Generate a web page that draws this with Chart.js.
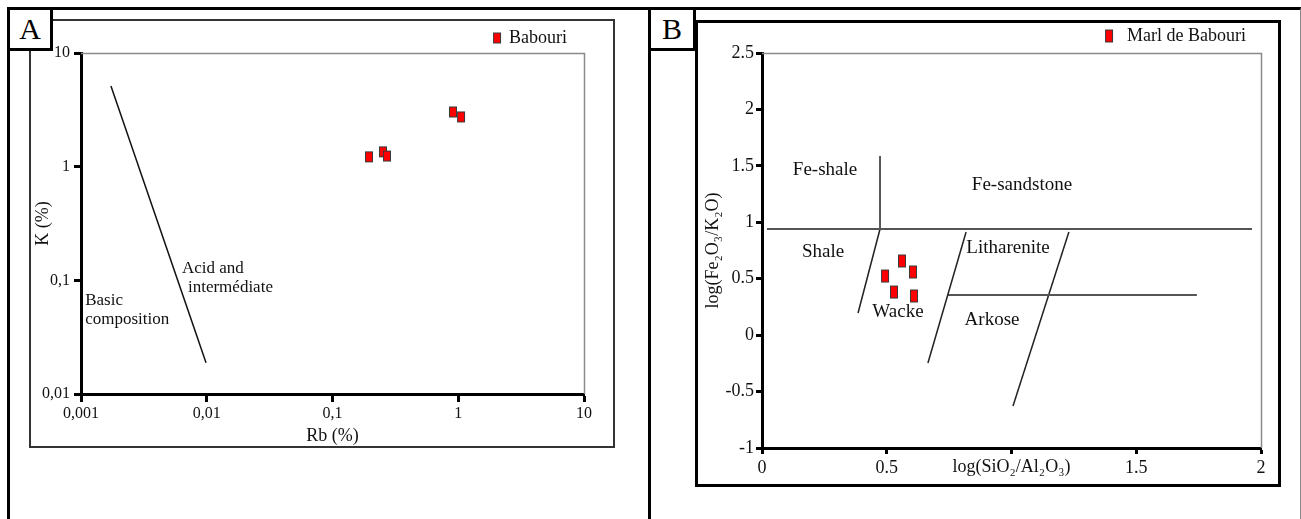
<!DOCTYPE html>
<html>
<head>
<meta charset="utf-8">
<title>Babouri - K/Rb and Herron diagrams</title>
<script src="https://cdn.jsdelivr.net/npm/chart.js@4.4.1/dist/chart.umd.min.js"></script>
<style>
  html, body { margin: 0; padding: 0; background: #fff; }
  body { width: 1301px; height: 519px; position: relative; overflow: hidden; font-family: "Liberation Serif", "Times New Roman", serif; }
  .frame { position: absolute; box-sizing: border-box; }
  #outerA { left: 7px; top: 7px; width: 644px; height: 540px; border: 3px solid #000; }
  #outerB { left: 651px; top: 7px; width: 650px; height: 540px; border-top: 3px solid #000; border-right: 1px solid #888; }
  #innerA { left: 29px; top: 19px; width: 586px; height: 429px; border: 2px solid #333; }
  #innerB { left: 695px; top: 20px; width: 586px; height: 467px; border: 3px solid #000; }
  .tag { position: absolute; box-sizing: border-box; background: #fff; border: 3px solid #000; font-size: 30px; line-height: 38px; text-align: center; color: #000; }
  #tagA { left: 7px; top: 7px; width: 46px; height: 44px; }
  #tagB { left: 648px; top: 7px; width: 48px; height: 44px; }
  canvas { position: absolute; }
  #chartA { left: 30px; top: 12px; }
  #chartB { left: 699px; top: 12px; }
</style>
</head>
<body>
<div class="frame" id="outerA"></div>
<div class="frame" id="outerB"></div>
<div class="frame" id="innerA"></div>
<div class="frame" id="innerB"></div>
<canvas id="chartA" width="582" height="435"></canvas>
<canvas id="chartB" width="579" height="472"></canvas>
<div class="tag" id="tagA">A</div>
<div class="tag" id="tagB">B</div>
<script>
// ---- Panel A : K vs Rb (log-log)
const rbTicks = [0.001, 0.01, 0.1, 1, 10];
const rbTickLabels = ['0,001', '0,01', '0,1', '1', '10'];
const kTicks = [0.01, 0.1, 1, 10];
const kTickLabels = ['0,01', '0,1', '1', '10'];
const babouriRb = [0.195, 0.252, 0.271, 0.908, 1.052];
const babouriK = [1.22, 1.35, 1.24, 3.03, 2.74];
const acidLineRb = [0.00173, 0.00987];
const acidLineK = [5.13, 0.0188];
const fieldTextA = [
    { text: 'Acid and', x: 0.00635, y: 0.126 },
    { text: 'intermédiate', x: 0.00709, y: 0.0857 },
    { text: 'Basic', x: 0.00108, y: 0.0658 },
    { text: 'composition', x: 0.00108, y: 0.0448 }
];

// ---- Panel B : Herron (1988) classification
const siAlTicks = [0, 0.5, 1, 1.5, 2];
const siAlTickLabels = ['0', '0.5', '', '1.5', '2'];   // "1" sits under the axis title in the original
const feKTicks = [-1, -0.5, 0, 0.5, 1, 1.5, 2, 2.5];
const feKTickLabels = ['-1', '-0.5', '0', '0.5', '1', '1.5', '2', '2.5'];
const marlSiAl = [0.561, 0.493, 0.605, 0.529, 0.609];
const marlFeK = [0.657, 0.524, 0.560, 0.382, 0.347];
const ironLineSiAl = [0.02, 1.964];
const ironLineFeK = [0.94, 0.94];
const shaleLineSiAl = [0.473, 0.473, 0.385];
const shaleLineFeK = [1.587, 0.94, 0.196];
const wackeLineSiAl = [0.818, 0.665];
const wackeLineFeK = [0.914, -0.247];
const arkoseLineSiAl = [0.745, 1.743];
const arkoseLineFeK = [0.356, 0.356];
const lithLineSiAl = [1.230, 1.006];
const lithLineFeK = [0.914, -0.628];
const fieldTextB = [
    { text: 'Fe-shale', x: 0.2525, y: 1.463 },
    { text: 'Fe-sandstone', x: 1.042, y: 1.330 },
    { text: 'Shale', x: 0.2445, y: 0.737 },
    { text: 'Litharenite', x: 0.986, y: 0.772 },
    { text: 'Wacke', x: 0.545, y: 0.205 },
    { text: 'Arkose', x: 0.922, y: 0.134 }
];

Chart.defaults.font.family = '"Liberation Serif", "Times New Roman", serif';
Chart.defaults.color = '#111';
Chart.defaults.animation = false;

function pts(xs, ys) {
    return xs.map((x, i) => ({ x: x, y: ys[i] }));
}

// small red rectangle with dark outline, used as point style
function rectMarker(w, h) {
    const c = document.createElement('canvas');
    c.width = w + 2;
    c.height = h + 2;
    const g = c.getContext('2d');
    g.fillStyle = '#ff0000';
    g.fillRect(1, 1, w, h);
    g.strokeStyle = '#3a3a3a';
    g.lineWidth = 1;
    g.strokeRect(1.5, 1.5, w - 1, h - 1);
    return c;
}

function boundary(xs, ys, color, width) {
    return {
        data: pts(xs, ys),
        showLine: true,
        borderColor: color,
        borderWidth: width,
        pointRadius: 0,
        pointHoverRadius: 0,
        fill: false,
        tension: 0
    };
}

// gray top/right edge of the plot area
function plotFrame(color, width) {
    return {
        id: 'plotFrame',
        beforeDatasetsDraw(chart) {
            const a = chart.chartArea;
            const ctx = chart.ctx;
            ctx.save();
            ctx.strokeStyle = color;
            ctx.lineWidth = width;
            ctx.beginPath();
            ctx.moveTo(a.left, a.top + 0.5);
            ctx.lineTo(a.right + 0.5, a.top + 0.5);
            ctx.lineTo(a.right + 0.5, a.bottom);
            ctx.stroke();
            ctx.restore();
        }
    };
}

// field names written in data coordinates
function regionText(items, font, align) {
    return {
        id: 'regionText',
        afterDatasetsDraw(chart) {
            const ctx = chart.ctx;
            const sx = chart.scales.x;
            const sy = chart.scales.y;
            ctx.save();
            ctx.font = font;
            ctx.fillStyle = '#111';
            ctx.textAlign = align;
            ctx.textBaseline = 'middle';
            items.forEach(it => {
                ctx.fillText(it.text, sx.getPixelForValue(it.x), sy.getPixelForValue(it.y));
            });
            ctx.restore();
        }
    };
}

function axis(tickLen, fontSize, pad, values, labels, fitSize, isX) {
    return {
        border: { display: true, color: '#000', width: 3 },
        grid: { drawOnChartArea: false, drawTicks: true, tickLength: tickLen, tickWidth: 3, tickColor: '#000' },
        ticks: {
            font: { size: fontSize },
            color: '#111',
            padding: pad,
            autoSkip: false,
            maxRotation: 0,
            callback: (v, i) => labels[i]
        },
        afterBuildTicks: s => { s.ticks = values.map(v => ({ value: v })); },
        afterFit: s => { if (isX) { s.height = fitSize; } else { s.width = fitSize; } }
    };
}

function legendOpts(pad, boxW) {
    return {
        position: 'top',
        align: 'end',
        maxHeight: 41,
        labels: {
            usePointStyle: true,
            pointStyleWidth: boxW,
            padding: pad,
            font: { size: 18 },
            color: '#111',
            filter: item => !!item.text
        }
    };
}

const markerA = rectMarker(8, 11);
const markerB = rectMarker(8, 13);

// ---- chart A
new Chart(document.getElementById('chartA'), {
    type: 'scatter',
    data: {
        datasets: [
            {
                label: 'Babouri',
                data: pts(babouriRb, babouriK),
                pointStyle: markerA,
                pointRadius: 5,
                backgroundColor: '#ff0000',
                borderColor: '#333'
            },
            boundary(acidLineRb, acidLineK, '#111', 1.5)
        ]
    },
    options: {
        responsive: false,
        layout: { padding: { left: 0, top: 0, right: 28, bottom: 0 } },
        plugins: {
            legend: legendOpts(17, 6),
            tooltip: { enabled: false }
        },
        scales: {
            x: Object.assign(axis(8, 16, 2, rbTicks, rbTickLabels, 53, true), {
                type: 'logarithmic',
                min: 0.001,
                max: 10,
                title: { display: true, text: 'Rb (%)', font: { size: 18 }, color: '#111', padding: { top: 0, bottom: 0 } }
            }),
            y: Object.assign(axis(7, 16, 4, kTicks, kTickLabels, 51, false), {
                type: 'logarithmic',
                min: 0.01,
                max: 10,
                title: { display: true, text: 'K (%)', font: { size: 18 }, color: '#111', padding: { top: 2, bottom: 0 } }
            })
        }
    },
    plugins: [plotFrame('#8a8a8a', 1.5), regionText(fieldTextA, '17px "Liberation Serif", serif', 'left')]
});

// ---- chart B
new Chart(document.getElementById('chartB'), {
    type: 'scatter',
    data: {
        datasets: [
            {
                label: 'Marl de Babouri',
                data: pts(marlSiAl, marlFeK),
                pointStyle: markerB,
                pointRadius: 5,
                backgroundColor: '#ff0000',
                borderColor: '#333'
            },
            boundary(ironLineSiAl, ironLineFeK, '#555', 2),
            boundary(shaleLineSiAl, shaleLineFeK, '#222', 1.5),
            boundary(wackeLineSiAl, wackeLineFeK, '#222', 1.5),
            boundary(arkoseLineSiAl, arkoseLineFeK, '#555', 2),
            boundary(lithLineSiAl, lithLineFeK, '#222', 1.5)
        ]
    },
    options: {
        responsive: false,
        layout: { padding: { left: 0, top: 0, right: 17, bottom: 0 } },
        plugins: {
            legend: legendOpts(15, 18),
            tooltip: { enabled: false }
        },
        scales: {
            x: Object.assign(axis(6, 18, 3, siAlTicks, siAlTickLabels, 36, true), {
                type: 'linear',
                min: 0,
                max: 2,
                title: { display: true, text: 'log(SiO₂/Al₂O₃)', font: { size: 18 }, color: '#111', padding: { top: 0, bottom: 6 } }
            }),
            y: Object.assign(axis(6, 18, 2, feKTicks, feKTickLabels, 63, false), {
                type: 'linear',
                min: -1,
                max: 2.5,
                title: { display: true, text: 'log(Fe₂O₃/K₂O)', font: { size: 18 }, color: '#111', padding: { top: 3, bottom: 0 } }
            })
        }
    },
    plugins: [plotFrame('#8a8a8a', 1.5), regionText(fieldTextB, '19px "Liberation Serif", serif', 'center')]
});
</script>
</body>
</html>
